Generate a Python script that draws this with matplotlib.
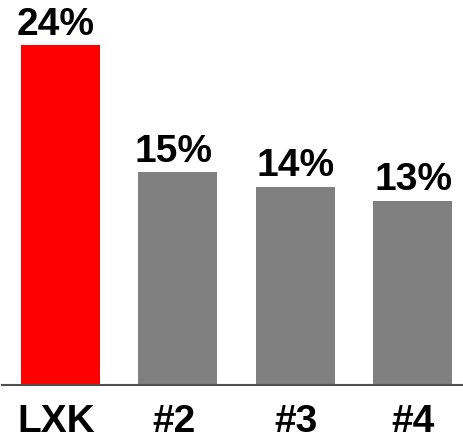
import matplotlib
matplotlib.use('Agg')
import matplotlib.pyplot as plt
from matplotlib.transforms import ScaledTranslation

plt.rcParams['font.family'] = ['Liberation Sans', 'DejaVu Sans']

# Data
categories = ['LXK', '#2', '#3', '#4']
values = [24, 15, 14, 13]
colors = ['#ff0000', '#808080', '#808080', '#808080']
# labels in the original sit slightly left of some bar centres (points)
label_shift = [-3.5, -3.0, 0.5, 0.5]

fig = plt.figure(figsize=(4.64, 4.40), dpi=100)
ax = fig.add_axes([2 / 464, 0.125, 1 - 2 / 464, 0.875])

x = range(len(categories))
ax.bar(x, values, width=0.675, color=colors, zorder=2)

for xi, v, dx in zip(x, values, label_shift):
    ax.annotate(f'{v}%', xy=(xi, v), xytext=(dx, 7.5), textcoords='offset points',
                ha='center', va='baseline', fontsize=28, fontweight='bold')

ax.set_xlim(-0.5, 3.44)
ax.set_ylim(0, 27.17)
ax.set_xticks(list(x))
ax.set_xticklabels(categories, fontsize=28, fontweight='bold')
ax.tick_params(axis='x', length=0, pad=13.5)
for lab, dx in zip(ax.get_xticklabels(), label_shift):
    lab.set_transform(lab.get_transform() + ScaledTranslation(dx / 72, 0, fig.dpi_scale_trans))
ax.set_yticks([])

for side in ['top', 'right', 'left']:
    ax.spines[side].set_visible(False)
ax.spines['bottom'].set_color('#505050')
ax.spines['bottom'].set_linewidth(1.5)

fig.savefig('out.png', dpi=100)
